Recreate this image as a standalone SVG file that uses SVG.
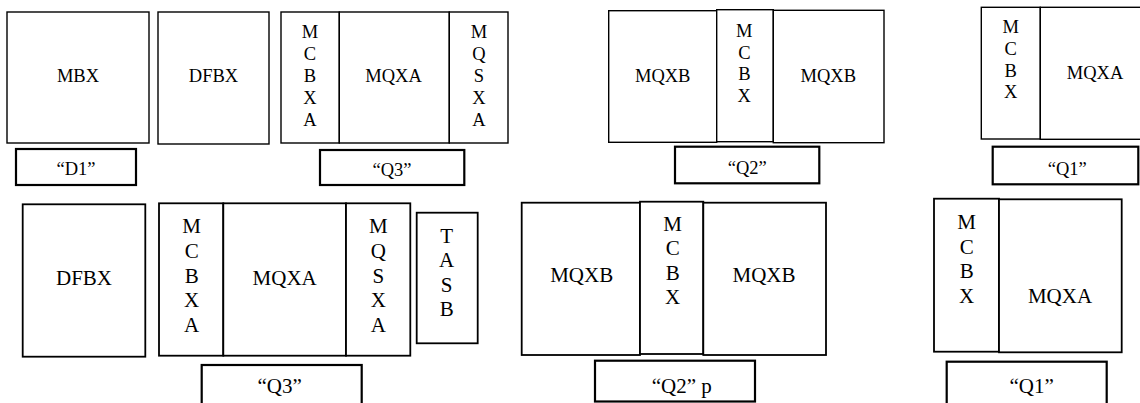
<svg xmlns="http://www.w3.org/2000/svg" width="1140" height="403" viewBox="0 0 1140 403">
<style>
.b{fill:#fff;stroke:#000;stroke-width:1.4}
.bl{fill:#fff;stroke:#000;stroke-width:1.8}
.l{fill:#fff;stroke:#000;stroke-width:2.2}
</style>
<rect width="1140" height="403" fill="#fff"/>
<g id="mbx"><rect class="b" x="7" y="12" width="142" height="131"/><text font-family="Liberation Serif, Tinos, Times New Roman, serif" font-size="18.5" text-anchor="middle" x="78" y="82">MBX</text></g>
<g id="dfbx-top"><rect class="b" x="158" y="12" width="111" height="132"/><text font-family="Liberation Serif, Tinos, Times New Roman, serif" font-size="18.5" text-anchor="middle" x="213.5" y="82">DFBX</text></g>
<g id="d1-top"><rect class="l" x="16" y="149" width="120" height="36"/><text font-family="Liberation Serif, Tinos, Times New Roman, serif" font-size="18.5" text-anchor="middle" x="76" y="175">“D1”</text></g>
<g id="mcbxa-top"><rect class="b" x="281" y="12" width="58.3" height="131"/><text font-family="Liberation Serif, Tinos, Times New Roman, serif" font-size="18.5" text-anchor="middle" x="310"><tspan x="310" y="38">M</tspan><tspan x="310" y="60">C</tspan><tspan x="310" y="82">B</tspan><tspan x="310" y="104">X</tspan><tspan x="310" y="126">A</tspan></text></g>
<g id="mqxa-top3"><rect class="b" x="339.3" y="12" width="110" height="131"/><text font-family="Liberation Serif, Tinos, Times New Roman, serif" font-size="18.5" text-anchor="middle" x="393.5" y="82">MQXA</text></g>
<g id="mqsxa-top"><rect class="b" x="449.3" y="12" width="58.7" height="131"/><text font-family="Liberation Serif, Tinos, Times New Roman, serif" font-size="18.5" text-anchor="middle" x="479"><tspan x="479" y="38">M</tspan><tspan x="479" y="60">Q</tspan><tspan x="479" y="82">S</tspan><tspan x="479" y="104">X</tspan><tspan x="479" y="126">A</tspan></text></g>
<g id="q3-top"><rect class="l" x="320" y="150" width="144.3" height="35"/><text font-family="Liberation Serif, Tinos, Times New Roman, serif" font-size="18.5" text-anchor="middle" x="392" y="176">“Q3”</text></g>
<g id="mqxb-top-l"><rect class="b" x="608.7" y="10.7" width="108" height="131.6"/><text font-family="Liberation Serif, Tinos, Times New Roman, serif" font-size="18.5" text-anchor="middle" x="662.7" y="81.7">MQXB</text></g>
<g id="mcbx-top2"><rect class="b" x="716.7" y="9.7" width="56.6" height="132"/><text font-family="Liberation Serif, Tinos, Times New Roman, serif" font-size="18.5" text-anchor="middle" x="744.3"><tspan x="744.3" y="36.7">M</tspan><tspan x="744.3" y="58.5">C</tspan><tspan x="744.3" y="80.3">B</tspan><tspan x="744.3" y="102">X</tspan></text></g>
<g id="mqxb-top-r"><rect class="b" x="773.3" y="10.3" width="110.7" height="132.4"/><text font-family="Liberation Serif, Tinos, Times New Roman, serif" font-size="18.5" text-anchor="middle" x="828.3" y="81.7">MQXB</text></g>
<g id="q2-top"><rect class="l" x="675" y="146.7" width="144.3" height="36.6"/><text font-family="Liberation Serif, Tinos, Times New Roman, serif" font-size="18.5" text-anchor="middle" x="747.3" y="174">“Q2”</text></g>
<g id="mcbx-top1"><rect class="b" x="981.3" y="7.3" width="59" height="131.7"/><text font-family="Liberation Serif, Tinos, Times New Roman, serif" font-size="18.5" text-anchor="middle" x="1010.7"><tspan x="1010.7" y="33.3">M</tspan><tspan x="1010.7" y="55">C</tspan><tspan x="1010.7" y="76.6">B</tspan><tspan x="1010.7" y="98.2">X</tspan></text></g>
<g id="mqxa-top1"><rect class="b" x="1040.3" y="7.3" width="110" height="132"/><text font-family="Liberation Serif, Tinos, Times New Roman, serif" font-size="18.5" text-anchor="middle" x="1095" y="79">MQXA</text></g>
<g id="q1-top"><rect class="l" x="992.7" y="146.7" width="145.6" height="37.6"/><text font-family="Liberation Serif, Tinos, Times New Roman, serif" font-size="18.5" text-anchor="middle" x="1067.3" y="175">“Q1”</text></g>
<g id="dfbx-bot"><rect class="bl" x="22.7" y="204.3" width="122.6" height="152.4"/><text font-family="Liberation Serif, Tinos, Times New Roman, serif" font-size="21" text-anchor="middle" x="84" y="285">DFBX</text></g>
<g id="mcbxa-bot"><rect class="bl" x="159" y="203.3" width="64.3" height="152.4"/><text font-family="Liberation Serif, Tinos, Times New Roman, serif" font-size="21" text-anchor="middle" x="191.7"><tspan x="191.7" y="233.3">M</tspan><tspan x="191.7" y="257.9">C</tspan><tspan x="191.7" y="282.5">B</tspan><tspan x="191.7" y="307.1">X</tspan><tspan x="191.7" y="331.7">A</tspan></text></g>
<g id="mqxa-bot3"><rect class="bl" x="223.3" y="203.3" width="122.7" height="152.4"/><text font-family="Liberation Serif, Tinos, Times New Roman, serif" font-size="21" text-anchor="middle" x="284.7" y="285">MQXA</text></g>
<g id="mqsxa-bot"><rect class="bl" x="346" y="203.3" width="64.3" height="152.4"/><text font-family="Liberation Serif, Tinos, Times New Roman, serif" font-size="21" text-anchor="middle" x="378.3"><tspan x="378.3" y="233.3">M</tspan><tspan x="378.3" y="257.9">Q</tspan><tspan x="378.3" y="282.5">S</tspan><tspan x="378.3" y="307.1">X</tspan><tspan x="378.3" y="331.7">A</tspan></text></g>
<g id="tasb"><rect class="bl" x="416.7" y="212.7" width="61" height="130.6"/><text font-family="Liberation Serif, Tinos, Times New Roman, serif" font-size="21" text-anchor="middle" x="446.7"><tspan x="446.7" y="242.7">T</tspan><tspan x="446.7" y="267.1">A</tspan><tspan x="446.7" y="291.5">S</tspan><tspan x="446.7" y="316">B</tspan></text></g>
<g id="q3-bot"><rect class="l" x="201.7" y="365" width="160" height="50"/><text font-family="Liberation Serif, Tinos, Times New Roman, serif" font-size="21" text-anchor="middle" x="279.7" y="393.3">“Q3”</text></g>
<g id="mqxb-bot-l"><rect class="bl" x="521.7" y="202.7" width="118.3" height="152.3"/><text font-family="Liberation Serif, Tinos, Times New Roman, serif" font-size="21" text-anchor="middle" x="581.7" y="281.7">MQXB</text></g>
<g id="mcbx-bot2"><rect class="bl" x="640" y="201.7" width="63.3" height="152.3"/><text font-family="Liberation Serif, Tinos, Times New Roman, serif" font-size="21" text-anchor="middle" x="672.7"><tspan x="672.7" y="230.7">M</tspan><tspan x="672.7" y="255.2">C</tspan><tspan x="672.7" y="279.7">B</tspan><tspan x="672.7" y="304.3">X</tspan></text></g>
<g id="mqxb-bot-r"><rect class="bl" x="703.3" y="202.7" width="122.7" height="152.3"/><text font-family="Liberation Serif, Tinos, Times New Roman, serif" font-size="21" text-anchor="middle" x="764" y="281.7">MQXB</text></g>
<g id="q2-bot"><rect class="l" x="595" y="360.7" width="160" height="40.8"/><text font-family="Liberation Serif, Tinos, Times New Roman, serif" font-size="21" text-anchor="start" x="651.7" y="393.3">“Q2” p</text></g>
<g id="mcbx-bot1"><rect class="bl" x="934" y="198.7" width="65" height="153"/><text font-family="Liberation Serif, Tinos, Times New Roman, serif" font-size="21" text-anchor="middle" x="966.7"><tspan x="966.7" y="229">M</tspan><tspan x="966.7" y="253.6">C</tspan><tspan x="966.7" y="278.1">B</tspan><tspan x="966.7" y="302.7">X</tspan></text></g>
<g id="mqxa-bot1"><rect class="bl" x="999" y="199.3" width="122.7" height="153"/><text font-family="Liberation Serif, Tinos, Times New Roman, serif" font-size="21" text-anchor="middle" x="1060" y="303.3">MQXA</text></g>
<g id="q1-bot"><rect class="l" x="946.7" y="361.7" width="160" height="50"/><text font-family="Liberation Serif, Tinos, Times New Roman, serif" font-size="21" text-anchor="middle" x="1031.7" y="393.3">“Q1”</text></g>
<g id="connectors"></g>
</svg>
